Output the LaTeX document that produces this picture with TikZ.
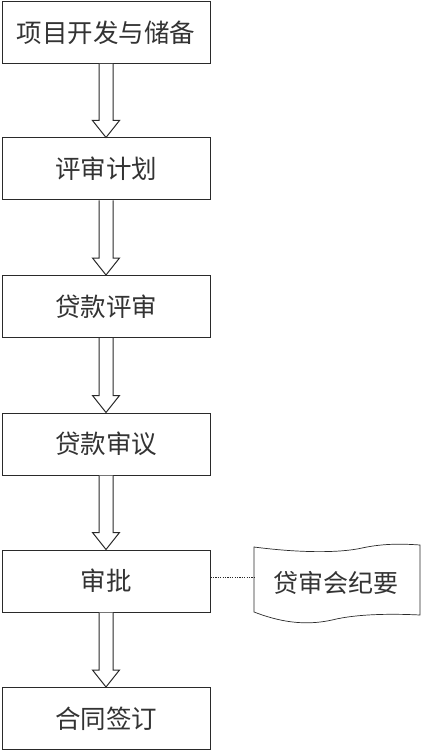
\documentclass[tikz,border=0pt]{standalone}
\usepackage{fontspec}
\newfontfamily\cjk{Noto Sans CJK SC}
\usetikzlibrary{calc}
\definecolor{ln}{HTML}{2A2A2A}
\definecolor{tx}{HTML}{333333}
\tikzset{
  stepbox/.style={draw=ln, line width=1pt, minimum width=208pt, minimum height=62pt,
    inner sep=0pt, font=\cjk\fontsize{25.5}{30}\selectfont, text=tx},
  fatarrow/.style={draw=ln, line width=1pt, fill=white, line join=miter},
  dotline/.style={draw=ln, line width=0.7pt, dash pattern=on 1.2pt off 1.2pt},
  docshape/.style={draw=ln, line width=0.7pt},
}
\newcommand{\fatarr}[2]{%
  \draw[fatarrow] ($(#1.south)+(-7,0)$) -- ($(#2.north)+(-7,-17)$) -- ($(#2.north)+(-13.5,-17)$)
    -- (#2.north) -- ($(#2.north)+(13.5,-17)$) -- ($(#2.north)+(7,-17)$) -- ($(#1.south)+(7,0)$);}
\begin{document}
\begin{tikzpicture}[x=1pt,y=-1pt]
\useasboundingbox[fill=white] (0,0) rectangle (422,751);
\node[stepbox] (a) at (106,32.5) {项目开发与储备};
\node[stepbox] (b) at (106,169) {评审计划};
\node[stepbox] (c) at (106,306.5) {贷款评审};
\node[stepbox] (d) at (106,444) {贷款审议};
\node[stepbox] (e) at (106,581) {审批};
\node[stepbox] (f) at (106,718.5) {合同签订};
\fatarr{a}{b}
\fatarr{b}{c}
\fatarr{c}{d}
\fatarr{d}{e}
\fatarr{e}{f}
\draw[docshape] (254,547) .. controls (300,553) and (340,553) .. (362,548)
  .. controls (385,543) and (405,544) .. (420,545) -- (420,615)
  .. controls (400,614) and (360,613) .. (332,620)
  .. controls (305,626) and (280,622) .. (254,612) -- cycle;
\node[inner sep=0pt, minimum width=166pt, minimum height=66pt, font=\cjk\fontsize{25}{30}\selectfont, text=tx] (g) at (336,583) {贷审会纪要};
\coordinate (gl) at ($(g.west)+(1,-6)$);
\draw[dotline] (e.east |- gl) -- (gl);
\end{tikzpicture}
\end{document}
